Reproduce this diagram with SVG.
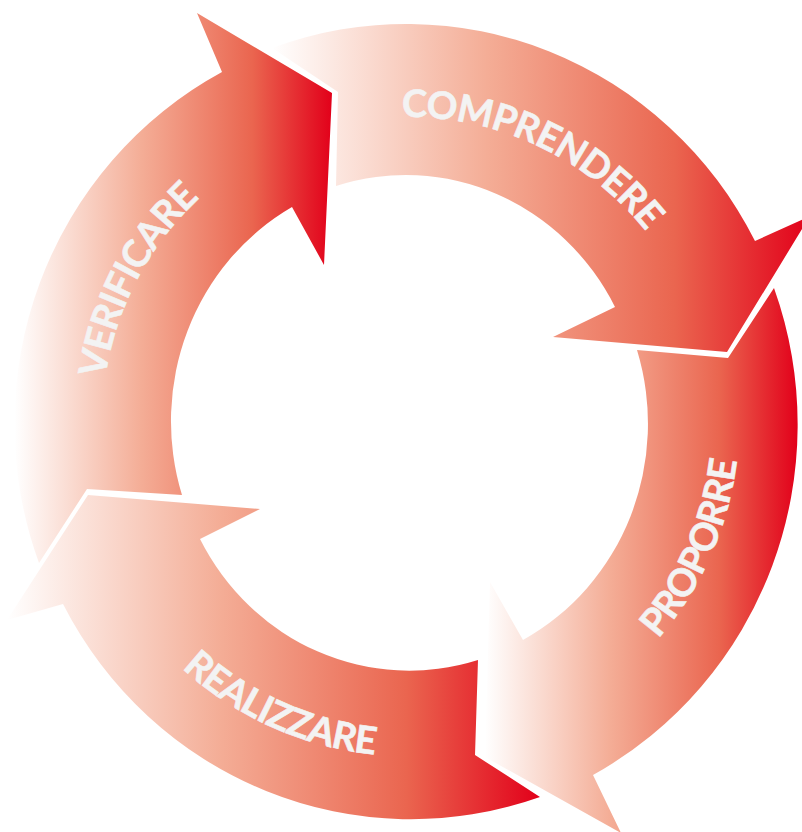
<svg xmlns="http://www.w3.org/2000/svg" width="802" height="832" viewBox="0 0 802 832">
<defs>
<linearGradient id="g" x1="0" y1="0" x2="1" y2="0">
<stop offset="0" stop-color="#ffffff"/>
<stop offset="0.4" stop-color="#f4ad96"/>
<stop offset="0.75" stop-color="#ea654f"/>
<stop offset="1" stop-color="#e2001a"/>
</linearGradient>
<path id="tp-top" d="M 233.1 172.1 A 305 305 0 0 1 711.8 395.4"/>
<path id="tp-left" d="M 150.5 585.4 A 304 304 0 0 1 395.2 117.3"/>
<path id="tp-right" d="M 443.3 752.1 A 333 333 0 0 0 676.3 226.4"/>
<path id="tp-bottom" d="M 74.7 455.9 A 336 336 0 0 0 604.0 693.7"/>
</defs>
<style>
.arrow { fill: url(#g); }
.lbl { fill: #f3f3f3; stroke: #f3f3f3; stroke-width: 0.6px; font-family: Lato, "Open Sans", "Liberation Sans", sans-serif; font-weight: bold; font-size: 38px; letter-spacing: -0.8px; }
</style>
<rect width="802" height="832" fill="#ffffff"/>
<g id="verificare">
<path class="arrow" d="M 182 495 L 87 489 L 39 563 A 392 399 0 0 1 222 72 L 197 13 L 332 93 L 324 265 L 292 207 A 236 245 0 0 0 182 495 Z"/>
<text class="lbl"><textPath href="#tp-left" startOffset="50%" text-anchor="middle">VERIFICARE</textPath></text>
</g>
<g id="comprendere">
<path class="arrow" d="M 336 186 L 338 92 L 272 48 A 392 399 0 0 1 755 241 L 810 216 L 727 352 L 553 337 L 615 307 A 236 245 0 0 0 336 186 Z"/>
<text class="lbl"><textPath href="#tp-top" startOffset="50%" text-anchor="middle">COMPRENDERE</textPath></text>
</g>
<g id="proporre">
<path class="arrow" d="M 637 350 L 728 358 L 774 288 A 392 399 0 0 1 593 775 L 621 833 L 485 757 L 490 582 L 523 640 A 236 245 0 0 0 637 350 Z"/>
<text class="lbl"><textPath href="#tp-right" startOffset="50%" text-anchor="middle">PROPORRE</textPath></text>
</g>
<g id="realizzare">
<path class="arrow" d="M 478 660 L 475 755 L 540 797 A 392 399 0 0 1 63 604 L 7 620 L 88 495 L 260 509 L 200 539 A 236 245 0 0 0 478 660 Z"/>
<text class="lbl"><textPath href="#tp-bottom" startOffset="50%" text-anchor="middle">REALIZZARE</textPath></text>
</g>
<g id="connectors"/>
</svg>
